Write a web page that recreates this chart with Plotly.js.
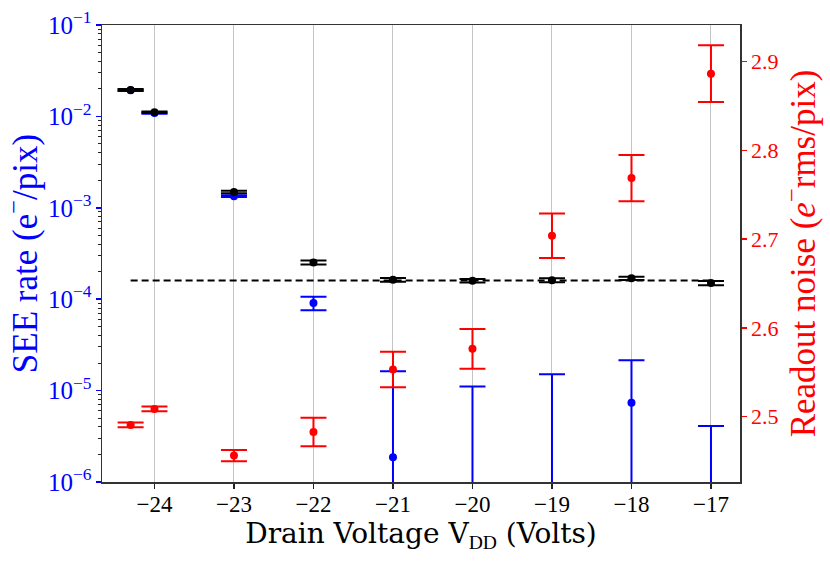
<!DOCTYPE html>
<html>
<head>
<meta charset="utf-8">
<script src="https://cdn.plot.ly/plotly-3.0.1.min.js"></script>
<style>
  html, body { margin: 0; padding: 0; background: #fff; }
  #chart { width: 830px; height: 564px; }
</style>
</head>
<body>
<div id="chart"></div>
<script>
// drain voltage scan: SEE rate (left, log) and readout noise (right)
const voltage = [-24.3, -24, -23, -22, -21, -20, -19, -18, -17];

// total single-electron-event rate (black)
const seeTotal    = [0.0195, 0.0111, 1.49e-3, 2.52e-4, 1.63e-4, 1.59e-4, 1.61e-4, 1.69e-4, 1.50e-4];
const seeTotalErr = [0.0004, 0.0002, 0.05e-3, 0.13e-4, 0.08e-4, 0.07e-4, 0.08e-4, 0.07e-4, 0.08e-4];

// SEE rate above baseline (blue); points at -20, -19, -17 fall below the axis
const seeExcess    = [0.0193, 0.0109, 1.34e-3, 9.1e-5, 1.87e-6, 1e-7, 1e-7, 7.35e-6, 1e-7];
const seeExcessErr = [0.0003, 0.0002, 0.03e-3, 1.55e-5, 1.44e-5, 1.1e-5, 1.5e-5, 1.415e-5, 4.0e-6];

// readout noise (red, right axis)
const noise    = [2.4905, 2.5086, 2.456, 2.4825, 2.553, 2.5764, 2.7038, 2.7688, 2.8865];
const noiseErr = [0.0027, 0.0027, 0.0063, 0.016, 0.020, 0.0224, 0.0252, 0.026, 0.032];

// baseline SEE rate (dashed)
const baselineX = [-24.3, -17];
const baselineY = [1.6e-4, 1.6e-4];

const SERIF = "Liberation Serif";

function errTrace(y, err, color, yaxis) {
    return {
        x: voltage, y, yaxis,
        type: "scatter", mode: "markers",
        marker: { color, size: 8 },
        error_y: { type: "data", array: err, visible: true, color, thickness: 2, width: 13 },
        hoverinfo: "x+y",
    };
}

const traces = [
    errTrace(seeExcess, seeExcessErr, "#0000ff", "y"),
    {
        x: baselineX, y: baselineY, type: "scatter", mode: "lines",
        line: { color: "#000", width: 2, dash: "7px,4px" },
        hoverinfo: "skip",
    },
    errTrace(seeTotal, seeTotalErr, "#000000", "y"),
    errTrace(noise, noiseErr, "#ff0000", "y2"),
];

const layout = {
    width: 830, height: 564,
    margin: { l: 102, r: 90, t: 25, b: 82 },
    paper_bgcolor: "#fff", plot_bgcolor: "#fff",
    showlegend: false,
    font: { family: SERIF, color: "#000" },
    xaxis: {
        range: [-24.66, -16.635],
        tick0: 0, dtick: 1,
        ticks: "outside", ticklen: 5, tickwidth: 1.5, tickcolor: "#222",
        tickfont: { family: SERIF, size: 23, color: "#000" },
        ticklabelstandoff: -4,
        showgrid: true, gridcolor: "#c4c4c4", gridwidth: 1,
        showline: true, linecolor: "#333", linewidth: 1.5, mirror: true,
        zeroline: false,
        title: {
            text: "Drain Voltage V<sub><span style=\"font-family:Liberation Serif\">DD</span></sub> (Volts)",
            font: { family: "DejaVu Serif", size: 28, color: "#000" },
            standoff: 0,
        },
    },
    yaxis: {
        type: "log", range: [-6, -1], dtick: 1,
        exponentformat: "power",
        ticks: "outside", ticklen: 5, tickwidth: 1.5, tickcolor: "#0000ff",
        tickfont: { family: SERIF, size: 20, color: "#0000ff" },
        minor: { ticks: "outside", ticklen: 3, tickwidth: 1, tickcolor: "#222", showgrid: false },
        showgrid: false, zeroline: false,
        showline: true, linecolor: "#333", linewidth: 1.5,
        title: {
            text: "SEE rate (e<sup>−</sup>/pix)",
            font: { family: SERIF, size: 35, color: "#0000ff" },
            standoff: 10,
        },
    },
    yaxis2: {
        overlaying: "y", side: "right",
        range: [2.4262, 2.9414], tick0: 0, dtick: 0.1,
        ticks: "outside", ticklen: 5, tickwidth: 1.5, tickcolor: "#ff0000",
        tickfont: { family: SERIF, size: 22, color: "#ff0000" },
        showgrid: false, zeroline: false,
        showline: true, linecolor: "#333", linewidth: 1.5,
        title: {
            text: "Readout noise (<i>e</i><sup>−</sup>rms/pix)",
            font: { family: SERIF, size: 35, color: "#ff0000" },
            standoff: 0,
        },
    },
};

Plotly.newPlot("chart", traces, layout, { staticPlot: true, displayModeBar: false });
</script>
</body>
</html>
